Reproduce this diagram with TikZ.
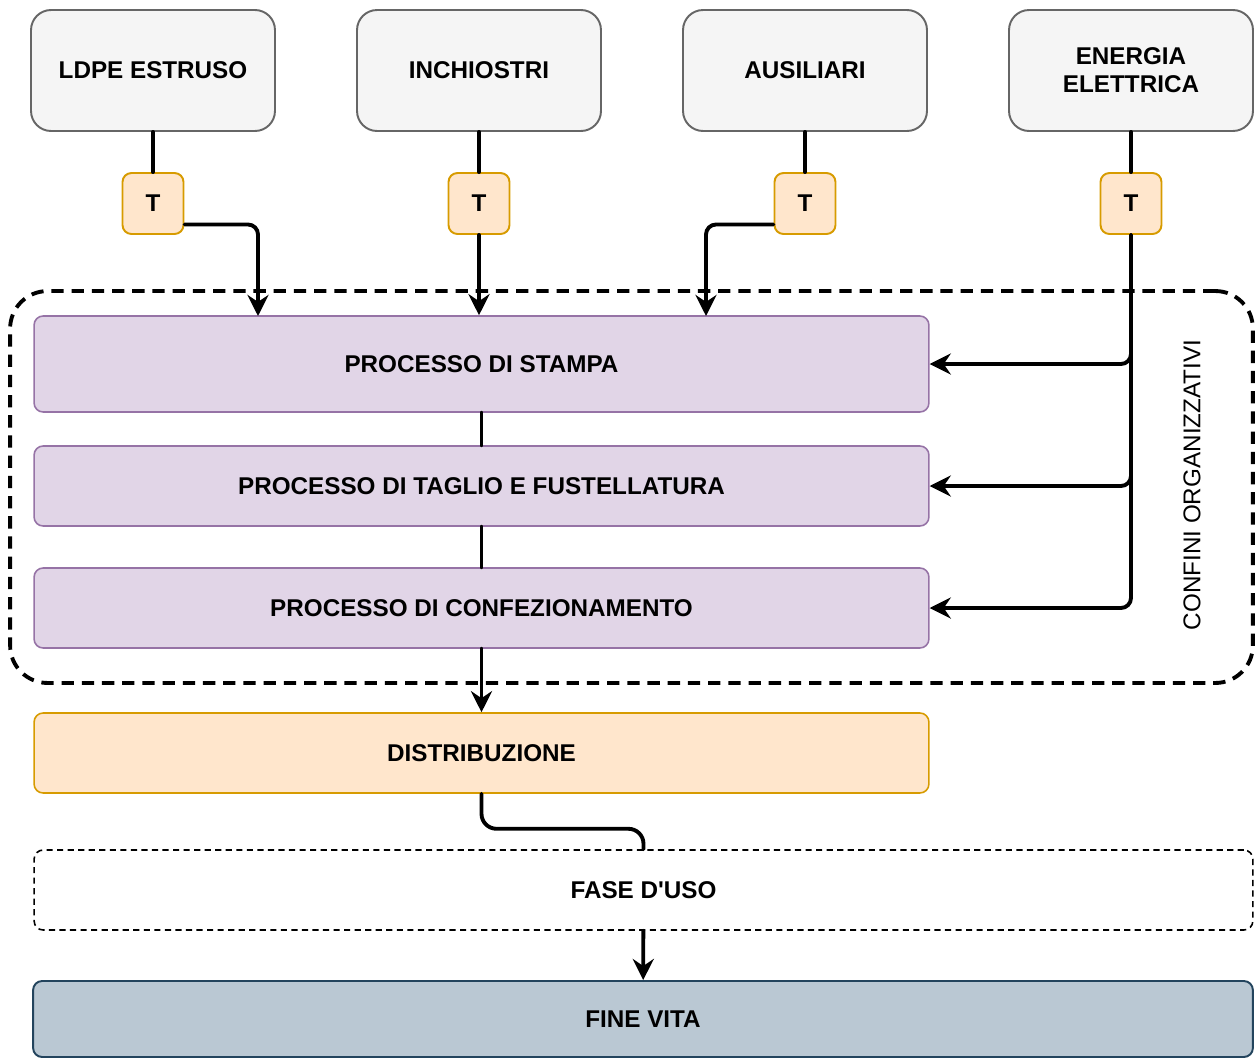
\documentclass[tikz,border=0pt]{standalone}
\usepackage{fontspec}
\setmainfont{Liberation Sans}
\usetikzlibrary{arrows.meta}

\definecolor{inFill}{HTML}{F5F5F5}
\definecolor{inLine}{HTML}{666666}
\definecolor{tFill}{HTML}{FFE6CC}
\definecolor{tLine}{HTML}{D79B00}
\definecolor{pFill}{HTML}{E1D5E7}
\definecolor{pLine}{HTML}{9673A6}
\definecolor{fvFill}{HTML}{BAC8D3}
\definecolor{fvLine}{HTML}{23445D}

\begin{document}
\begin{tikzpicture}[x=0.02cm,y=-0.02cm]
\tikzset{
  txt/.style = {font=\fontsize{13.8}{16}\selectfont\bfseries, align=center},
  InputStyle/.style = {txt, rectangle, rounded corners=0.4cm, draw=inLine, fill=inFill, line width=1.1pt, minimum width=4.88cm, minimum height=2.42cm},
  TStyle/.style = {txt, rectangle, rounded corners=0.18cm, draw=tLine, fill=tFill, line width=1.1pt, minimum size=1.22cm},
  ProcStyle/.style = {txt, rectangle, rounded corners=0.18cm, draw=pLine, fill=pFill, line width=0.9pt, minimum width=17.9cm},
  link/.style = {line width=2.2pt, line cap=round},
  flow/.style = {link, -{Stealth[length=12pt,width=12pt,inset=4pt]}, rounded corners=0.2cm}
}
\useasboundingbox (0,0) rectangle (1255,1059);

% confini organizzativi
\node[draw, line width=2.2pt, dash pattern=on 7pt off 4.5pt, rounded corners=0.75cm,
      minimum width=24.86cm, minimum height=7.84cm] (confini) at (631.5,487) {};
\node[rotate=90, font=\fontsize{13.8}{16}\selectfont] (confinilbl) at (1192,485) {CONFINI ORGANIZZATIVI};

% ingressi
\node[InputStyle] (ldpe) at (153,70.5) {LDPE ESTRUSO};
\node[InputStyle] (inch) at (479,70.5) {INCHIOSTRI};
\node[InputStyle] (ausi) at (805,70.5) {AUSILIARI};
\node[InputStyle] (ener) at (1131,70.5) {ENERGIA\\ELETTRICA};

\node[TStyle] (t1) at (153,203.5) {T};
\node[TStyle] (t2) at (479,203.5) {T};
\node[TStyle] (t3) at (805,203.5) {T};
\node[TStyle] (t4) at (1131,203.5) {T};

% processi
\node[ProcStyle, minimum height=1.92cm] (stampa) at (481.5,364) {PROCESSO DI STAMPA};
\node[ProcStyle, minimum height=1.6cm] (taglio) at (481.5,486) {PROCESSO DI TAGLIO E FUSTELLATURA};
\node[ProcStyle, minimum height=1.6cm] (confez) at (481.5,608) {PROCESSO DI CONFEZIONAMENTO};

\node[ProcStyle, draw=tLine, fill=tFill, minimum height=1.6cm] (distr) at (481.5,753) {DISTRIBUZIONE};
\node[txt, draw, rectangle, rounded corners=0.18cm, line width=0.9pt, dash pattern=on 3.5pt off 2.5pt,
      minimum width=24.38cm, minimum height=1.6cm] (fase) at (643.5,890) {FASE D\textquotesingle USO};
\node[txt, draw=fvLine, fill=fvFill, rectangle, rounded corners=0.18cm, line width=1.1pt,
      minimum width=24.4cm, minimum height=1.52cm] (fine) at (643,1019) {FINE VITA};

% connessioni
\foreach \a/\b in {ldpe/t1, inch/t2, ausi/t3, ener/t4}
  \draw[link] (\a) -- (\b);

\coordinate (p1) at (258,316);
\coordinate (p3) at (706,316);
\draw[flow] ([yshift=-0.42cm]t1.east) -| (p1);
\draw[flow] (t2) -- (t2 |- stampa.north);
\draw[flow] ([yshift=-0.42cm]t3.west) -| (p3);

\foreach \p in {stampa, taglio, confez}
  \draw[flow] (t4.south) |- (\p.east);

\draw[link] (stampa) -- (taglio);
\draw[link] (taglio) -- (confez);
\draw[flow] (confez) -- (distr);
\draw[link, rounded corners=0.3cm] (distr.south) -- ++(0,35) -| (fase.north);
\draw[flow] (fase) -- (fine);

\end{tikzpicture}
\end{document}
